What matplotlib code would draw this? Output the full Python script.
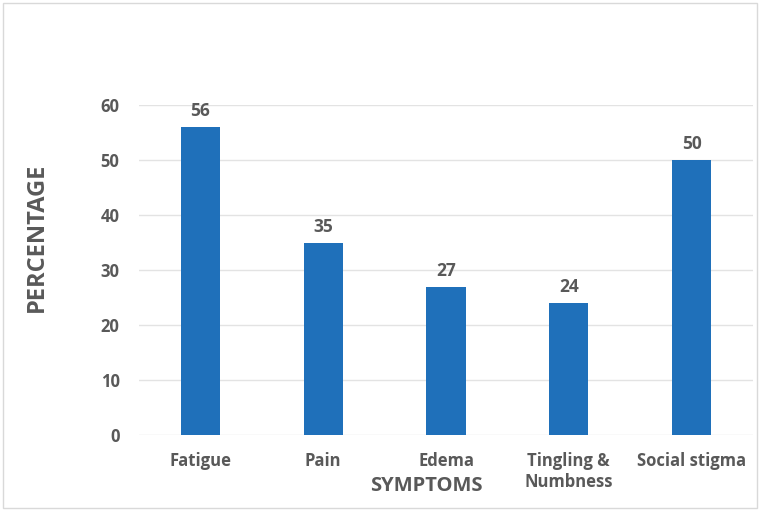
import matplotlib
matplotlib.use("Agg")
import matplotlib.pyplot as plt
from matplotlib.patches import Rectangle

symptoms = ["Fatigue", "Pain", "Edema", "Tingling &\nNumbness", "Social stigma"]
percentages = [56, 35, 27, 24, 50]
y_ticks = [0, 10, 20, 30, 40, 50, 60]

bar_color = "#1F70BA"
text_color = "#595959"

plt.rcParams["font.family"] = ["Open Sans", "DejaVu Sans"]
plt.rcParams["font.weight"] = "bold"

W, H = 765, 511
fig = plt.figure(figsize=(W / 100, H / 100), dpi=100)
# axes box in pixels: x 139..753, y 105..435
ax = fig.add_axes([139 / W, 1 - 435 / H, (753 - 139) / W, (435 - 105) / H])

x = range(len(symptoms))
ax.bar(x, percentages, width=0.32, color=bar_color, zorder=3)

for xi, v in zip(x, percentages):
    ax.annotate(str(v), (xi, v), xytext=(0, 5), textcoords="offset points",
                ha="center", va="bottom", fontsize=12.5, fontweight="bold",
                color=text_color)

ax.set_xlim(-0.5, len(symptoms) - 0.5)
ax.set_ylim(0, 60)
ax.set_yticks(y_ticks)
ax.set_xticks(list(x))
ax.set_xticklabels(symptoms, fontsize=12, fontweight="bold", color=text_color,
                   linespacing=1.25)
ax.tick_params(axis="y", labelsize=12, labelcolor=text_color, length=0, pad=14)
ax.tick_params(axis="x", length=0, pad=12)
for lbl in ax.get_yticklabels():
    lbl.set_fontweight("bold")

ax.yaxis.grid(True, color="#E3E3E3", linewidth=1, zorder=0)
for s in ax.spines.values():
    s.set_visible(False)

fig.text(37 / W, 1 - 237 / H, "PERCENTAGE", rotation=90, ha="center", va="center",
         fontsize=17, fontweight="bold", color=text_color)
fig.text(426 / W, 1 - 486 / H, "SYMPTOMS", ha="center", va="center",
         fontsize=14.5, fontweight="bold", color=text_color)

fig.patches.append(Rectangle((3 / W, 1 - 508 / H), 754 / W, 505 / H,
                             transform=fig.transFigure, fill=False,
                             edgecolor="#D9D9D9", linewidth=1))

fig.savefig("out.png", dpi=100, facecolor="white")
